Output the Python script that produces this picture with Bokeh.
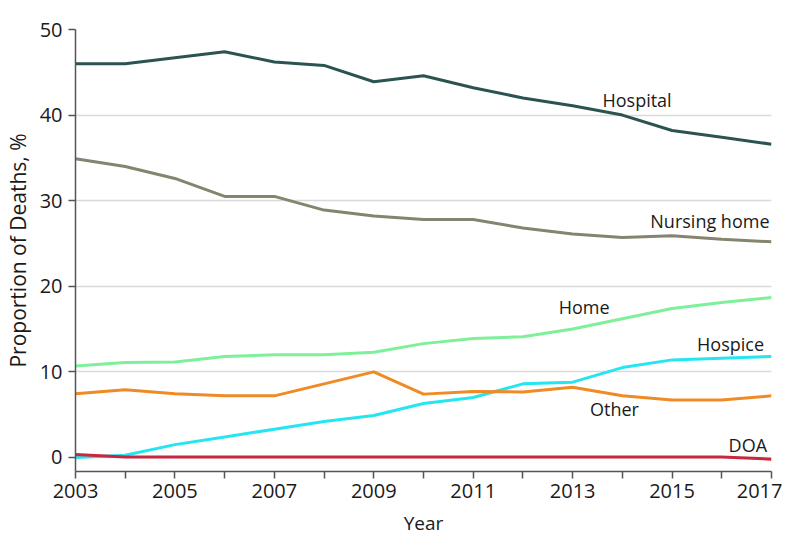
from bokeh.plotting import figure
from bokeh.models import FixedTicker, Range1d, Label
from bokeh.embed import file_html
from bokeh.resources import INLINE

years = list(range(2003, 2018))
hospital = [46.0, 46.0, 46.7, 47.4, 46.2, 45.8, 43.9, 44.6, 43.2, 42.0, 41.1, 40.0, 38.2, 37.4, 36.6]
nursing_home = [34.9, 34.0, 32.6, 30.5, 30.5, 28.9, 28.2, 27.8, 27.8, 26.8, 26.1, 25.7, 25.9, 25.5, 25.2]
home = [10.7, 11.1, 11.15, 11.8, 12.0, 12.0, 12.3, 13.3, 13.9, 14.1, 15.0, 16.2, 17.4, 18.1, 18.7]
hospice = [0.0, 0.25, 1.5, 2.4, 3.3, 4.2, 4.9, 6.3, 7.0, 8.6, 8.8, 10.5, 11.4, 11.6, 11.8]
other = [7.45, 7.9, 7.45, 7.2, 7.2, 8.6, 10.0, 7.4, 7.7, 7.65, 8.2, 7.2, 6.7, 6.7, 7.2]
doa = [0.35, 0.05, 0.05, 0.05, 0.05, 0.05, 0.05, 0.05, 0.05, 0.05, 0.05, 0.05, 0.05, 0.05, -0.2]

series_names = ["Hospital", "Nursing home", "Home", "Hospice", "Other", "DOA"]
series_values = [hospital, nursing_home, home, hospice, other, doa]
series_colors = ["#2b5450", "#85846f", "#7ef09a", "#25e5f0", "#f08a24", "#c8283f"]

# label anchor (x, y, align)
label_pos = [
    (2013.6, 41.8, "left"),
    (2016.96, 27.6, "right"),
    (2012.72, 17.55, "left"),
    (2016.85, 13.3, "right"),
    (2013.35, 5.7, "left"),
    (2016.91, 1.4, "right"),
]

x_major = [2003, 2005, 2007, 2009, 2011, 2013, 2015, 2017]
x_minor = [2004, 2006, 2008, 2010, 2012, 2014, 2016]
y_ticks = [0, 10, 20, 30, 40, 50]

FONT = "Open Sans"

p = figure(width=782, height=541, output_backend="svg", toolbar_location=None,
           x_range=Range1d(2003, 2017), y_range=Range1d(-1.64, 50),
           min_border_left=70, min_border_right=11, min_border_top=29, min_border_bottom=70)
p.outline_line_color = None
p.background_fill_color = "white"

p.xgrid.grid_line_color = None
p.ygrid.grid_line_color = "#d9d9d9"
p.ygrid.grid_line_width = 1.5
p.ygrid.ticker = FixedTicker(ticks=y_ticks)

for vals, col in zip(series_values, series_colors):
    p.line(years, vals, line_color=col, line_width=3)

for name, (lx, ly, al) in zip(series_names, label_pos):
    p.add_layout(Label(x=lx, y=ly, text=name, text_align=al, text_baseline="middle",
                       text_font=FONT, text_font_size="18px", text_color="#1a1a1a"))

xa = p.xaxis[0]
xa.ticker = FixedTicker(ticks=x_major, minor_ticks=x_minor)
xa.axis_label = "Year"
ya = p.yaxis[0]
ya.ticker = FixedTicker(ticks=y_ticks)
ya.axis_label = "Proportion of Deaths, %"

for ax in (xa, ya):
    ax.axis_line_color = "#555555"
    ax.axis_line_width = 1.5
    ax.major_tick_line_color = "#555555"
    ax.major_tick_line_width = 1.5
    ax.major_tick_in = 0
    ax.major_tick_out = 7
    ax.major_label_text_font = FONT
    ax.major_label_text_font_size = "20px"
    ax.major_label_text_color = "#1a1a1a"
    ax.axis_label_text_font = FONT
    ax.axis_label_text_font_size = "19px"
    ax.axis_label_text_font_style = "normal"
    ax.axis_label_text_color = "#1a1a1a"

ya.axis_label_text_font_size = "21px"
xa.minor_tick_line_color = "#555555"
xa.minor_tick_line_width = 1.5
xa.minor_tick_in = 0
xa.minor_tick_out = 7
ya.minor_tick_line_color = None
xa.major_label_standoff = 5
xa.axis_label_standoff = 9
ya.major_label_standoff = 6
ya.axis_label_standoff = 5

open("out.html", "w").write(file_html(p, INLINE))
